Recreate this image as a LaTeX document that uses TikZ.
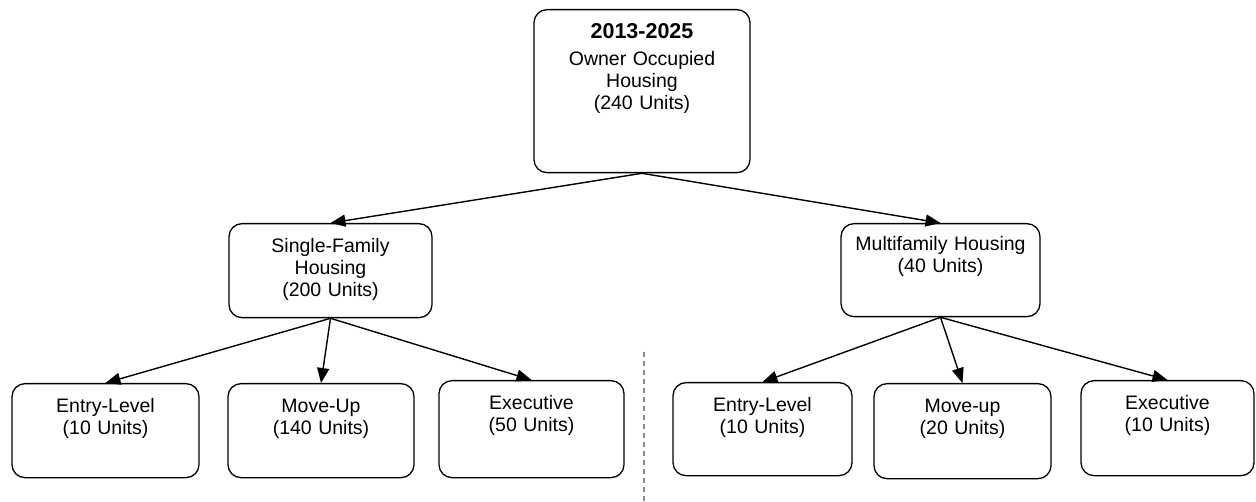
\documentclass[tikz,border=0pt]{standalone}
\usepackage{fontspec}
\setmainfont{Liberation Sans}
\usetikzlibrary{arrows.meta}
\begin{document}
\begin{tikzpicture}[x=1pt, y=-1pt]
    \tikzset{unit/.style={draw, line width=1.3pt, rounded corners=13pt, inner sep=0pt,
               align=center, anchor=north, text height=29pt, text depth=65pt,
               font=\fontsize{19.5}{22}\selectfont},
             feed/.style={line width=1.4pt, -{Triangle[length=15pt, width=12pt]}},
             divider/.style={draw=black!45, line width=1.3pt, dash pattern=on 5pt off 4pt}}
    \useasboundingbox (0,0) rectangle (1256,502);
    % total for the period
    \node[unit, text width=216pt, text depth=134pt] (own) at (642,9)
      {{\fontsize{21.5}{22}\selectfont\bfseries 2013-2025}\\[5pt]Owner Occupied\\Housing\\(240 Units)};
    % housing types
    \node[unit, text width=203pt] (single) at (330.5,223) {Single-Family\\Housing\\(200 Units)};
    \node[unit, text width=199pt, text height=27pt, text depth=66pt] (multi) at (940.5,223)
      {Multifamily Housing\\(40 Units)};
    \draw[feed] (own.south) -- (single.north);
    \draw[feed] (own.south) -- (multi.north);
    % market segments, single-family
    \foreach \nm/\cx/\bw/\ty/\dep/\txt in {sentry/105.5/187/383/65/{Entry-Level\\(10 Units)},
        smove/321/186/383/65/{Move-Up\\(140 Units)}, sexec/531.5/185/380/68/{Executive\\(50 Units)}} {
      \node[unit, text width=\bw pt, text depth=\dep pt] (\nm) at (\cx,\ty) {\txt};
      \draw[feed] (single.south) -- (\nm.north);
    }
    % market segments, multifamily
    \foreach \nm/\cx/\bw/\ty/\dep/\txt in {mentry/762.5/179/382/64/{Entry-Level\\(10 Units)},
        mmove/962.5/177/383/66/{Move-up\\(20 Units)}, mexec/1167.5/173/380/66/{Executive\\(10 Units)}} {
      \node[unit, text width=\bw pt, text depth=\dep pt] (\nm) at (\cx,\ty) {\txt};
      \draw[feed] (multi.south) -- (\nm.north);
    }
    \coordinate (splittop) at (644,352);
    \coordinate (splitbot) at (644,502);
    \draw[divider] (splittop) -- (splitbot);
  \end{tikzpicture}
\end{document}
